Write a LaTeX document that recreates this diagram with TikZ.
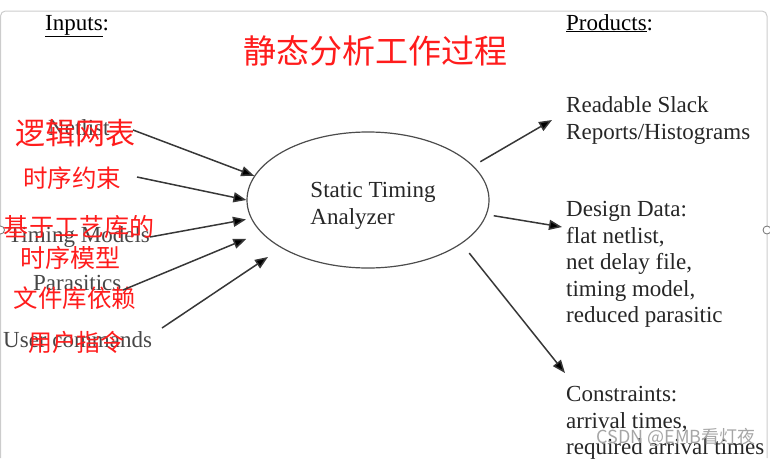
\documentclass[tikz,border=0pt]{standalone}
\usepackage{fontspec}
\setmainfont{Liberation Serif}
\newfontfamily\cjk{Noto Sans CJK SC}
\usetikzlibrary{arrows.meta,shapes.geometric}
\definecolor{cnred}{RGB}{255,28,28}
\definecolor{linegray}{RGB}{55,55,55}

\begin{document}
\begin{tikzpicture}[x=1pt, y=-1pt,
    en/.style={font=\fontsize{23}{26.6}\selectfont, inner sep=0pt},
    eng/.style={en, text=black!72, anchor=base west},
    outtxt/.style={en, text=black!85, align=left, anchor=north west},
    cn/.style={font=\cjk\fontsize{#1}{#1}\selectfont, text=cnred, inner sep=0pt},
    stanode/.style={ellipse, draw=black!70, line width=1.2pt, minimum width=242pt, minimum height=136pt, inner sep=0pt},
    arr/.style={-{Triangle[length=13pt,width=10pt,fill=black]}, draw=linegray, line width=1.5pt},
    frame/.style={draw=black!20, line width=1pt},
    handle/.style={draw=black!55, fill=white, line width=0.8pt}]
  \useasboundingbox (0,0) rectangle (770,458);
  \draw[frame, rounded corners=5pt] (0.5,458) -- (0.5,11) -- (767,11) -- (767,458);
  \draw[handle] (0.5,230) circle (4);
  \draw[handle] (767,230) circle (4);

  \node[cn=33] (title) at (375,51) {静态分析工作过程};
  \node[en, anchor=base west] (inhead) at (45,30) {\underline{Inputs}:};
  \node[en, anchor=base west] (outhead) at (566,30) {\underline{Products}:};

  \node[stanode] (sta) at (368,200) {};
  \node[en, align=left, text=black!85] (stalbl) at ([shift={(5,6)}]sta.center) {Static Timing\\Analyzer};

  \node[eng] (netlist) at (48,135) {Netlist};
  \node[eng] (tmodels) at (8,242) {Timing Models};
  \node[eng] (parasit) at (33,290) {Parasitics};
  \node[eng] (usercmd) at (3,347) {User commands};

  \foreach \n/\x/\y/\s/\t in {cnnet/75/133/30/逻辑网表, cncons/72/178/24.5/时序约束,
      cnlib/79/227/25/基于工艺库的, cnmodel/70/258/25/时序模型,
      cnpar/75/298/24.5/文件库依赖, cncmd/76/342/24/用户指令}
    \node[cn=\s] (\n) at (\x,\y) {\t};

  \coordinate (in1) at (133,130);
  \coordinate (in2) at (137,177);
  \coordinate (in3) at (150,237);
  \coordinate (in4) at (123,290);
  \coordinate (in5) at (162,328);
  \foreach \c/\a/\g in {in1/168/0, in2/180/0, in3/189/5, in4/197/16, in5/209/16}
    \draw[arr, shorten >=\g pt] (\c) -- (sta.\a);

  \coordinate (out1) at (552,120);
  \coordinate (out2) at (562,227);
  \coordinate (out3) at (565,373);
  \foreach \c/\a/\g in {out1/18/8, out2/353/7, out3/335/12}
    \draw[arr, shorten <=\g pt] (sta.\a) -- (\c);

  \node[outtxt] (reports) at (566,96.3) {Readable Slack\\Reports/Histograms};
  \node[outtxt] (design) at (566,201) {Design Data:\\flat netlist,\\net delay file,\\timing model,\\reduced parasitic};
  \node[outtxt] (constr) at (566,386) {Constraints:\\arrival times,\\required arrival times};

  \node[font=\cjk\fontsize{18}{18}\selectfont, text=black!35, inner sep=0pt] (wmark) at (676,437) {CSDN @EMB看灯夜};
\end{tikzpicture}
\end{document}
